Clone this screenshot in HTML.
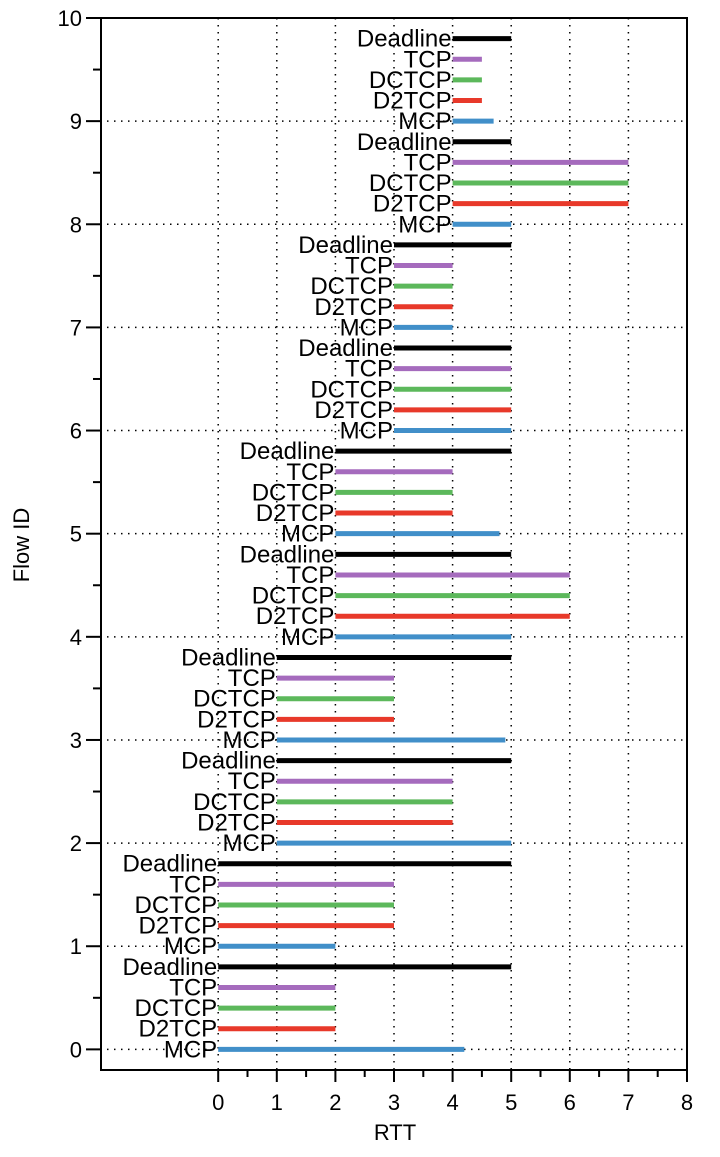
<!DOCTYPE html>
<html><head><meta charset="utf-8"><style>
html,body{margin:0;padding:0;background:#fff;}
svg text{font-family:"Liberation Sans",Arial,sans-serif;}
</style></head><body>
<svg id="chart" width="720" height="1152" xmlns="http://www.w3.org/2000/svg"></svg>
<script>
const flows=[0,1,2,3,4,5,6,7,8,9];
const series=["MCP","D2TCP","DCTCP","TCP","Deadline"];
const colors=["#418fc9","#e8392a","#5cb85b","#a56bbd","#000000"];
const starts=[0,0,1,1,2,2,3,3,4,4];
const mcpEnd=[4.2,2,5,4.9,5,4.8,5,4,5,4.7];
const d2tcpEnd=[2,3,4,3,6,4,5,4,7,4.5];
const dctcpEnd=[2,3,4,3,6,4,5,4,7,4.5];
const tcpEnd=[2,3,4,3,6,4,5,4,7,4.5];
const deadlineEnd=[5,5,5,5,5,5,5,5,5,5];
const xTicks=[0,1,2,3,4,5,6,7,8];
const yTicks=[0,1,2,3,4,5,6,7,8,9,10];
const ends=[mcpEnd,d2tcpEnd,dctcpEnd,tcpEnd,deadlineEnd];

const L=101,R=687,T=18,B=1070;
const X=v=>L+(v+2)/10*(R-L);
const Y=v=>B-(v+0.2)/10.2*(B-T);
const svg=document.getElementById('chart');
const NS="http://www.w3.org/2000/svg";
function mk(tag,a,parent){const e=document.createElementNS(NS,tag);for(const k in a)e.setAttribute(k,a[k]);(parent||svg).appendChild(e);return e;}

const grid=mk('g',{});


xTicks.forEach(t=>{mk('line',{x1:X(t),x2:X(t),y1:T,y2:B,stroke:'#000','stroke-width':1.5,'stroke-dasharray':'1.5 5.5'},grid);});
yTicks.forEach(t=>{mk('line',{x1:L+6,x2:R,y1:Y(t),y2:Y(t),stroke:'#000','stroke-width':1.5,'stroke-dasharray':'1.5 5.5'},grid);});

flows.forEach((f,i)=>{
  series.forEach((s,j)=>{
    const y=Y(f+j*0.2);
    const b=mk('line',{x1:X(starts[i]),x2:X(ends[j][i]),y1:y,y2:y,stroke:colors[j],'stroke-width':5});
    
    
    const t=mk('text',{x:X(starts[i])-1,y:y+8,'text-anchor':'end','font-size':24});
    t.textContent=s;
    
    
  });
});

const frame=mk('rect',{x:L,y:T,width:R-L,height:B-T,fill:'none',stroke:'#000','stroke-width':2});



yTicks.forEach(t=>{
  mk('line',{x1:L-15,x2:L,y1:Y(t),y2:Y(t),stroke:'#000','stroke-width':2});
  if(t<10) mk('line',{x1:L-8,x2:L,y1:Y(t+0.5),y2:Y(t+0.5),stroke:'#000','stroke-width':2});
  const lb=mk('text',{x:L-19,y:Y(t)+8,'text-anchor':'end','font-size':22});
  lb.textContent=t;
  
  
});
xTicks.forEach(t=>{
  mk('line',{x1:X(t),x2:X(t),y1:B,y2:B+12,stroke:'#000','stroke-width':2});
  if(t<8) mk('line',{x1:X(t+0.5),x2:X(t+0.5),y1:B,y2:B+7,stroke:'#000','stroke-width':2});
  const lb=mk('text',{x:X(t),y:B+40,'text-anchor':'middle','font-size':22});
  lb.textContent=t;
  
  
});
const xt=mk('text',{x:395,y:1140,'text-anchor':'middle','font-size':22});
xt.textContent='RTT';


const yt=mk('text',{x:0,y:0,'text-anchor':'middle','font-size':22,transform:'translate(29,545) rotate(-90)'});
yt.textContent='Flow ID';


</script>
</body></html>
